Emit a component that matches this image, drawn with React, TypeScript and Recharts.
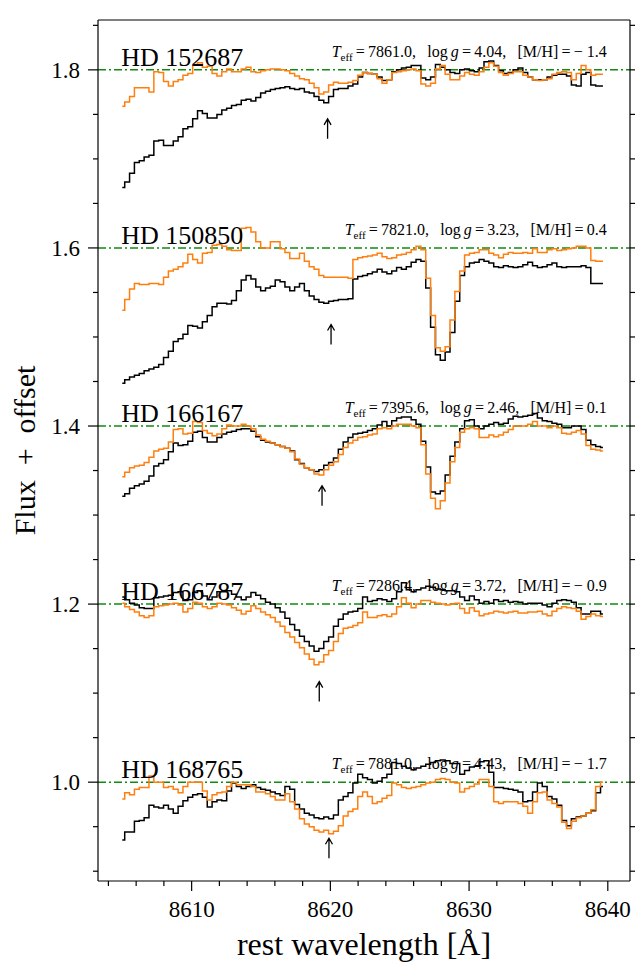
import { LineChart, Line, XAxis, YAxis, ReferenceLine, ReferenceDot } from 'recharts';

const FONT = '"Liberation Serif", "DejaVu Serif", serif';

// wavelength grid (Å): 100 pixels, 0.35 Å apart
const WL_START = 8605;
const WL_STEP = 0.35;

const STARS = ['HD 152687', 'HD 150850', 'HD 166167', 'HD 166787', 'HD 168765'];
const OFFSETS = [0.8, 0.6, 0.4, 0.2, 0.0];
const TEFF = ['7861.0', '7821.0', '7395.6', '7286.4', '7881.0'];
const LOGG = ['4.04', '3.23', '2.46', '3.72', '4.43'];
const MH = [-1.4, 0.4, 0.1, -0.9, -1.7];
const ARROW_WL = [8619.8, 8620.05, 8619.4, 8619.2, 8619.9];
const ARROW_TIP = [1.745, 1.514, 1.333, 1.113, 0.937];

const X_TICKS = [8604, 8606, 8608, 8610, 8612, 8614, 8616, 8618, 8620, 8622, 8624, 8626, 8628, 8630, 8632, 8634, 8636, 8638, 8640];
const Y_TICKS = [0.9, 0.95, 1.0, 1.05, 1.1, 1.15, 1.2, 1.25, 1.3, 1.35, 1.4, 1.45, 1.5, 1.55, 1.6, 1.65, 1.7, 1.75, 1.8, 1.85];
const X_DOMAIN: [number, number] = [8603.25, 8641.6];
const Y_DOMAIN: [number, number] = [0.889, 1.856];

// observed (black) and model (orange) normalised flux
const obs152687 = [
  0.868, 0.874, 0.884, 0.896, 0.898, 0.902, 0.904, 0.920, 0.921, 0.915,
  0.915, 0.920, 0.925, 0.934, 0.936, 0.945, 0.954, 0.951, 0.946, 0.946,
  0.950, 0.955, 0.957, 0.960, 0.961, 0.966, 0.967, 0.965, 0.969, 0.974,
  0.976, 0.978, 0.979, 0.980, 0.981, 0.979, 0.978, 0.979, 0.975, 0.974,
  0.970, 0.966, 0.963, 0.970, 0.978, 0.979, 0.979, 0.982, 0.984, 0.992,
  0.997, 0.996, 0.995, 0.992, 0.988, 0.989, 0.998, 1.000, 1.002, 1.003,
  1.005, 1.005, 0.991, 0.989, 0.992, 1.006, 1.003, 1.000, 0.997, 0.996,
  1.000, 1.001, 0.999, 0.998, 1.002, 1.009, 1.010, 1.005, 0.999, 0.996,
  0.997, 1.000, 1.002, 0.997, 0.992, 0.989, 0.989, 0.989, 0.992, 0.994,
  0.995, 0.995, 0.993, 0.983, 0.982, 0.995, 0.997, 0.983, 0.982, 0.982,
];
const mod152687 = [
  0.959, 0.964, 0.970, 0.980, 0.980, 0.980, 0.975, 0.998, 0.997, 0.987,
  0.982, 0.987, 0.989, 0.994, 0.996, 1.006, 1.008, 1.003, 1.004, 0.996,
  0.993, 0.998, 1.001, 0.998, 0.998, 1.001, 1.003, 0.998, 0.997, 0.999,
  1.000, 1.001, 1.001, 1.000, 0.999, 0.996, 0.993, 0.990, 0.989, 0.985,
  0.980, 0.973, 0.975, 0.983, 0.986, 0.985, 0.985, 0.986, 0.988, 0.994,
  0.997, 0.996, 0.995, 0.990, 0.985, 0.989, 0.997, 0.998, 0.999, 1.000,
  1.001, 0.999, 0.984, 0.982, 0.985, 1.001, 1.005, 0.995, 0.989, 0.989,
  0.993, 0.997, 0.995, 0.994, 0.998, 1.003, 1.008, 1.004, 0.997, 0.994,
  0.996, 0.998, 0.998, 0.994, 0.992, 0.989, 0.988, 0.989, 0.990, 0.995,
  0.997, 0.998, 0.997, 0.989, 0.996, 1.005, 1.000, 0.994, 0.995, 0.995,
];
const obs150850 = [
  0.848, 0.852, 0.855, 0.857, 0.859, 0.862, 0.864, 0.866, 0.869, 0.877,
  0.884, 0.895, 0.898, 0.903, 0.913, 0.912, 0.910, 0.917, 0.924, 0.934,
  0.938, 0.938, 0.937, 0.941, 0.952, 0.964, 0.969, 0.965, 0.956, 0.952,
  0.955, 0.957, 0.964, 0.962, 0.956, 0.952, 0.956, 0.960, 0.952, 0.946,
  0.942, 0.939, 0.938, 0.940, 0.941, 0.942, 0.942, 0.943, 0.965, 0.968,
  0.969, 0.971, 0.973, 0.976, 0.973, 0.971, 0.974, 0.978, 0.976, 0.979,
  0.984, 0.987, 0.985, 0.955, 0.911, 0.880, 0.874, 0.883, 0.905, 0.940,
  0.969, 0.979, 0.983, 0.984, 0.987, 0.985, 0.983, 0.979, 0.978, 0.980,
  0.979, 0.978, 0.979, 0.981, 0.984, 0.980, 0.978, 0.979, 0.981, 0.983,
  0.979, 0.978, 0.979, 0.979, 0.979, 0.980, 0.978, 0.960, 0.960, 0.960,
];
const mod150850 = [
  0.930, 0.942, 0.954, 0.960, 0.959, 0.959, 0.960, 0.960, 0.959, 0.967,
  0.974, 0.976, 0.979, 0.983, 0.993, 0.987, 0.983, 0.994, 0.995, 1.003,
  1.004, 1.002, 0.998, 0.997, 0.997, 1.022, 1.023, 1.018, 1.007, 1.000,
  1.000, 1.007, 1.007, 0.999, 0.995, 0.988, 0.988, 0.994, 0.985, 0.979,
  0.976, 0.969, 0.967, 0.967, 0.967, 0.967, 0.967, 0.966, 0.987, 0.989,
  0.990, 0.991, 0.992, 0.994, 0.990, 0.988, 0.989, 0.992, 0.993, 0.995,
  0.998, 1.002, 0.998, 0.966, 0.924, 0.888, 0.884, 0.889, 0.919, 0.951,
  0.974, 0.992, 0.994, 0.995, 0.998, 0.998, 0.994, 0.992, 0.989, 0.993,
  0.995, 0.994, 0.994, 0.995, 0.994, 0.999, 0.995, 0.995, 0.998, 0.999,
  0.997, 0.998, 0.999, 1.000, 1.002, 1.002, 1.000, 0.986, 0.985, 0.985,
];
const obs166167 = [
  0.921, 0.924, 0.930, 0.933, 0.935, 0.938, 0.944, 0.955, 0.958, 0.962,
  0.971, 0.981, 0.978, 0.979, 0.983, 0.993, 0.994, 0.987, 0.982, 0.982,
  0.987, 0.991, 0.993, 0.994, 0.996, 0.997, 0.997, 0.994, 0.988, 0.984,
  0.982, 0.981, 0.979, 0.977, 0.975, 0.972, 0.962, 0.958, 0.953, 0.951,
  0.949, 0.951, 0.956, 0.959, 0.964, 0.974, 0.982, 0.987, 0.991, 0.992,
  0.993, 0.995, 0.997, 1.001, 1.005, 1.000, 1.006, 1.009, 1.010, 1.010,
  1.007, 1.002, 0.983, 0.954, 0.926, 0.924, 0.927, 0.945, 0.966, 0.982,
  0.997, 1.006, 1.007, 1.000, 0.997, 1.000, 1.002, 1.004, 1.002, 1.003,
  1.008, 1.011, 1.010, 1.011, 1.012, 1.014, 1.009, 1.006, 1.005, 1.003,
  1.002, 0.998, 0.998, 1.000, 1.000, 0.996, 0.984, 0.979, 0.977, 0.976,
];
const mod166167 = [
  0.943, 0.948, 0.953, 0.955, 0.956, 0.959, 0.965, 0.972, 0.974, 0.975,
  0.982, 0.996, 0.997, 0.991, 0.992, 1.005, 1.004, 0.995, 0.992, 0.989,
  0.991, 0.997, 1.001, 1.000, 1.000, 1.002, 1.000, 0.997, 0.990, 0.985,
  0.983, 0.981, 0.979, 0.977, 0.975, 0.971, 0.963, 0.957, 0.953, 0.951,
  0.946, 0.945, 0.951, 0.956, 0.960, 0.968, 0.976, 0.981, 0.984, 0.987,
  0.988, 0.990, 0.991, 0.997, 0.998, 0.997, 1.000, 1.002, 1.002, 1.002,
  1.000, 0.998, 0.979, 0.946, 0.919, 0.907, 0.916, 0.936, 0.960, 0.976,
  0.993, 0.997, 0.998, 0.997, 0.987, 0.987, 0.990, 0.988, 0.990, 0.993,
  0.996, 1.000, 1.000, 1.000, 1.002, 1.005, 1.000, 1.000, 0.998, 1.000,
  0.998, 0.992, 0.991, 0.993, 0.995, 0.991, 0.978, 0.974, 0.973, 0.972,
];
const obs166787 = [
  1.008, 1.005, 1.001, 0.999, 0.996, 0.995, 0.995, 1.007, 1.008, 1.009,
  1.010, 1.013, 1.014, 1.004, 1.005, 1.013, 1.015, 1.009, 1.005, 1.008,
  1.014, 1.014, 1.015, 1.011, 1.008, 1.005, 1.008, 1.013, 1.010, 1.006,
  1.002, 1.000, 0.996, 0.991, 0.984, 0.977, 0.971, 0.964, 0.958, 0.953,
  0.947, 0.950, 0.958, 0.963, 0.975, 0.983, 0.989, 0.991, 0.992, 0.995,
  1.008, 1.003, 1.004, 1.006, 1.005, 1.003, 1.006, 1.014, 1.024, 1.016,
  1.014, 1.016, 1.018, 1.020, 1.019, 1.017, 1.016, 1.015, 1.015, 1.014,
  1.008, 1.004, 1.009, 1.005, 1.001, 1.003, 1.001, 1.005, 1.003, 1.004,
  1.002, 1.003, 1.002, 1.000, 1.001, 1.001, 1.001, 0.999, 0.997, 1.001,
  1.004, 1.005, 1.004, 1.002, 0.996, 0.989, 0.989, 0.992, 0.992, 0.989,
];
const mod166787 = [
  1.001, 0.997, 0.994, 0.991, 0.987, 0.985, 0.987, 0.997, 0.998, 0.999,
  1.000, 1.001, 0.999, 0.991, 0.995, 1.002, 1.001, 0.997, 0.995, 0.997,
  1.001, 1.000, 0.999, 0.996, 0.993, 0.989, 0.992, 0.998, 0.995, 0.991,
  0.988, 0.985, 0.980, 0.975, 0.968, 0.963, 0.957, 0.951, 0.944, 0.938,
  0.932, 0.935, 0.943, 0.948, 0.958, 0.967, 0.973, 0.974, 0.976, 0.979,
  0.991, 0.985, 0.985, 0.987, 0.988, 0.986, 0.989, 0.997, 1.007, 1.001,
  0.996, 1.000, 1.004, 1.004, 1.002, 1.001, 1.000, 0.999, 1.000, 1.001,
  0.995, 0.990, 0.996, 0.992, 0.987, 0.989, 0.990, 0.992, 0.991, 0.990,
  0.991, 0.992, 0.990, 0.990, 0.991, 0.991, 0.992, 0.989, 0.987, 0.992,
  0.995, 0.997, 0.996, 0.995, 0.992, 0.983, 0.986, 0.989, 0.987, 0.986,
];
const obs168765 = [
  0.935, 0.944, 0.944, 0.956, 0.957, 0.960, 0.974, 0.972, 0.971, 0.974,
  0.970, 0.965, 0.973, 0.979, 0.983, 0.986, 0.987, 0.983, 0.972, 0.978,
  0.980, 0.979, 0.990, 0.999, 0.995, 0.993, 0.995, 0.997, 0.994, 0.992,
  0.991, 0.989, 0.987, 0.985, 0.995, 0.992, 0.975, 0.970, 0.965, 0.963,
  0.960, 0.959, 0.961, 0.959, 0.963, 0.980, 0.984, 0.988, 0.999, 1.009,
  1.005, 1.003, 0.999, 1.001, 1.005, 1.009, 1.022, 1.021, 1.018, 1.016,
  1.014, 1.016, 1.018, 1.020, 1.022, 1.024, 1.025, 1.024, 1.021, 1.021,
  1.009, 1.013, 1.017, 1.018, 1.023, 1.024, 1.011, 0.994, 0.994, 0.993,
  0.992, 0.991, 0.989, 0.978, 0.979, 0.989, 0.999, 0.995, 0.984, 0.981,
  0.974, 0.957, 0.951, 0.959, 0.961, 0.962, 0.965, 0.968, 0.988, 0.995,
];
const mod168765 = [
  0.981, 0.988, 0.986, 0.992, 0.994, 0.994, 1.007, 1.000, 1.000, 0.994,
  0.995, 0.992, 0.988, 0.995, 1.000, 1.000, 1.000, 0.990, 0.980, 0.986,
  0.988, 0.989, 0.995, 1.000, 0.997, 0.997, 0.997, 0.995, 0.989, 0.989,
  0.987, 0.984, 0.980, 0.980, 0.987, 0.978, 0.970, 0.959, 0.953, 0.950,
  0.946, 0.944, 0.946, 0.942, 0.945, 0.951, 0.962, 0.967, 0.970, 0.984,
  0.989, 0.984, 0.976, 0.978, 0.982, 0.985, 0.999, 0.997, 0.994, 0.993,
  0.994, 0.995, 0.997, 0.999, 1.000, 1.003, 1.004, 1.003, 1.000, 0.999,
  0.989, 0.993, 0.995, 0.998, 1.003, 1.003, 0.995, 0.978, 0.976, 0.978,
  0.978, 0.978, 0.976, 0.973, 0.965, 0.978, 0.988, 0.989, 0.980, 0.976,
  0.972, 0.955, 0.948, 0.956, 0.960, 0.962, 0.965, 0.969, 0.995, 1.000,
];

const OBS = [obs152687, obs150850, obs166167, obs166787, obs168765];
const MOD = [mod152687, mod150850, mod166167, mod166787, mod168765];

const data = obs152687.map((_, i) => {
  const row: Record<string, number> = { wl: +(WL_START + WL_STEP * i).toFixed(2) };
  STARS.forEach((_, k) => {
    row[`obs${k}`] = +(OBS[k][i] + OFFSETS[k]).toFixed(4);
    row[`mod${k}`] = +(MOD[k][i] + OFFSETS[k]).toFixed(4);
  });
  return row;
});

const AXIS_LINE = { stroke: '#000', strokeWidth: 1.2 };

function XTick(props: any) {
  const { x, y, payload, side } = props;
  const v = payload.value;
  const major = Math.abs(v % 10) < 1e-6;
  const len = major ? 10 : 5;
  const dir = side === 'top' ? -1 : 1;
  return (
    <g>
      <line x1={x} x2={x} y1={y} y2={y + dir * len} stroke="#000" strokeWidth={1.2} />
      {side !== 'top' && major && (
        <text x={x} y={y + 36} textAnchor="middle" fontFamily={FONT} fontSize={23} fill="#000">
          {v}
        </text>
      )}
    </g>
  );
}

function YTick(props: any) {
  const { x, y, payload, side } = props;
  const v = payload.value;
  const major = Math.abs(v * 5 - Math.round(v * 5)) < 1e-6;
  const len = major ? 10 : 5;
  const dir = side === 'right' ? 1 : -1;
  return (
    <g>
      <line x1={x} x2={x + dir * len} y1={y} y2={y} stroke="#000" strokeWidth={1.2} />
      {side !== 'right' && major && (
        <text x={x - 18} y={y + 8} textAnchor="end" fontFamily={FONT} fontSize={23} fill="#000">
          {v.toFixed(1)}
        </text>
      )}
    </g>
  );
}

const fmtMH = (m: number) => (m < 0 ? `\u2212 ${Math.abs(m).toFixed(1)}` : m.toFixed(1));

export default function App() {
  return (
    <div style={{ position: 'absolute', left: 0, top: 0, width: 635, height: 964, background: '#fff' }}>
      <LineChart width={635} height={964} data={data} margin={{ top: 0, right: 0, bottom: 0, left: 0 }}>
        <XAxis
          dataKey="wl"
          type="number"
          domain={X_DOMAIN}
          allowDataOverflow
          ticks={X_TICKS}
          interval={0}
          tickSize={0}
          tickMargin={0}
          tickLine={false}
          tick={(p: any) => <XTick {...p} side="bottom" />}
          axisLine={AXIS_LINE}
          height={83}
          label={{
            content: ({ viewBox }: any) => (
              <text
                x={viewBox.x + viewBox.width / 2}
                y={viewBox.y + 74}
                textAnchor="middle"
                fontFamily={FONT}
                fontSize={32}
                fill="#000"
              >
                rest wavelength [Å]
              </text>
            ),
          }}
        />
        <XAxis
          xAxisId="top"
          orientation="top"
          type="number"
          domain={X_DOMAIN}
          allowDataOverflow
          ticks={X_TICKS}
          interval={0}
          tickSize={0}
          tickMargin={0}
          tickLine={false}
          tick={(p: any) => <XTick {...p} side="top" />}
          axisLine={AXIS_LINE}
          height={20}
        />
        <YAxis
          type="number"
          domain={Y_DOMAIN}
          allowDataOverflow
          ticks={Y_TICKS}
          interval={0}
          tickSize={0}
          tickMargin={0}
          tickLine={false}
          tick={(p: any) => <YTick {...p} side="left" />}
          axisLine={AXIS_LINE}
          width={98}
          label={{
            content: ({ viewBox }: any) => (
              <text
                transform={`translate(${viewBox.x + 35}, ${viewBox.y + viewBox.height / 2}) rotate(-90)`}
                textAnchor="middle"
                fontFamily={FONT}
                fontSize={30}
                fill="#000"
              >
                {'Flux\u2002+\u2002offset'}
              </text>
            ),
          }}
        />
        <YAxis
          yAxisId="right"
          orientation="right"
          type="number"
          domain={Y_DOMAIN}
          allowDataOverflow
          ticks={Y_TICKS}
          interval={0}
          tickSize={0}
          tickMargin={0}
          tickLine={false}
          tick={(p: any) => <YTick {...p} side="right" />}
          axisLine={AXIS_LINE}
          width={5}
        />

        {OFFSETS.map((off, k) => (
          <ReferenceLine
            key={`cont${k}`}
            y={1 + off}
            stroke="#128a12"
            strokeWidth={1.5}
            strokeDasharray="8 3 2 3"
          />
        ))}

        {STARS.map((_, k) => (
          <Line
            key={`obs${k}`}
            dataKey={`obs${k}`}
            type="step"
            stroke="#000"
            strokeWidth={1.5}
            dot={false}
            isAnimationActive={false}
          />
        ))}
        {STARS.map((_, k) => (
          <Line
            key={`mod${k}`}
            dataKey={`mod${k}`}
            type="step"
            stroke="#ff7f0e"
            strokeWidth={1.5}
            dot={false}
            isAnimationActive={false}
          />
        ))}

        {STARS.map((name, k) => (
          <ReferenceDot
            key={`name${k}`}
            x={WL_START}
            y={1 + OFFSETS[k]}
            shape={(p: any) => (
              <text x={p.cx - 1} y={p.cy - 4} fontFamily={FONT} fontSize={26} fill="#000">
                {name}
              </text>
            )}
          />
        ))}
        {STARS.map((_, k) => (
          <ReferenceDot
            key={`par${k}`}
            x={8640}
            y={1 + OFFSETS[k]}
            shape={(p: any) => (
              <text
                x={p.cx - 1}
                y={p.cy - 13}
                textAnchor="end"
                fontFamily={FONT}
                fontSize={16}
                fill="#000"
                style={{ whiteSpace: 'pre' }}
              >
                <tspan fontStyle="italic">T</tspan>
                <tspan fontSize={11} dy={4}>eff</tspan>
                <tspan dy={-4}>{`\u2009=\u2009${TEFF[k]},\u2002\u2009log\u2009`}</tspan>
                <tspan fontStyle="italic">g</tspan>
                <tspan>{`\u2009=\u2009${LOGG[k]},\u2002\u2009[M/H]\u2009=\u2009${fmtMH(MH[k])}`}</tspan>
              </text>
            )}
          />
        ))}
        {ARROW_WL.map((wl, k) => (
          <ReferenceDot
            key={`arrow${k}`}
            x={wl}
            y={ARROW_TIP[k]}
            shape={(p: any) => (
              <path
                d={`M${p.cx},${p.cy + 20} L${p.cx},${p.cy} M${p.cx - 3.5},${p.cy + 6} L${p.cx},${p.cy} L${p.cx + 3.5},${p.cy + 6}`}
                stroke="#000"
                strokeWidth={1.3}
                fill="none"
              />
            )}
          />
        ))}
      </LineChart>
    </div>
  );
}
